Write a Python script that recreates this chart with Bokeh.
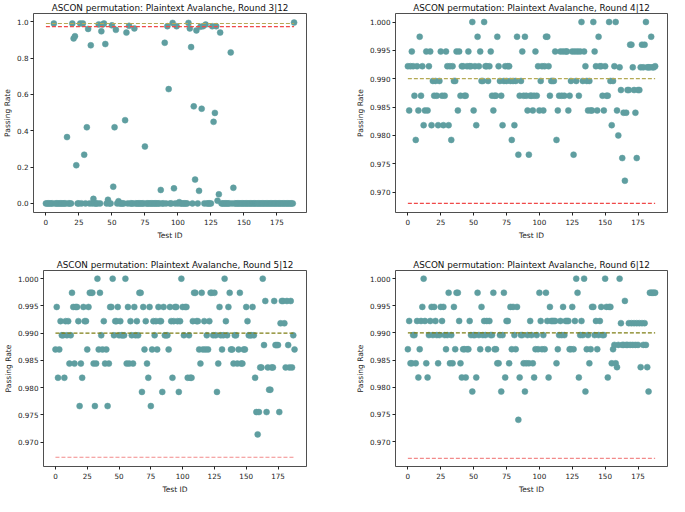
from bokeh.plotting import figure
from bokeh.layouts import column, row
from bokeh.models import Range1d, FixedTicker, PrintfTickFormatter
from bokeh.embed import file_html
from bokeh.resources import INLINE

# ---------------- data ----------------
round3 = [
    0, 0, 0, 0, 0, 0, .99, 0, 0, 0,
    0, 0, 0, 0, 0, 0, .365, 0, 0, 0,
    .99, .908, .92, .21, 0, 0, .99, 0, .99, .268,
    0, .419, .96, 0, .87, 0, .025, 0, 0, 0,
    .985, 0, .947, .985, .99, .877, 0, .02, 0, 0,
    .98, .092, .419, .955, 0, .012, 0, 0, 0, 0,
    .458, .94, 0, .977, 0, 0, 0, .963, 0, 0,
    0, 0, 0, 0, 0, .313, 0, 0, 0, 0,
    0, 0, 0, 0, 0, 0, 0, .074, 0, 0,
    .884, 0, .975, .629, 0, 0, .993, .083, 0, .975,
    0, .007, 0, 0, 0, 0, 0, 0, .993, .963,
    .86, 0, .534, .131, .952, 0, .069, .972, .521, .975,
    0, .984, 0, 0, 0, 0, .975, .449, .498, .975,
    .015, .05, .94, 0, 0, 0, 0, 0, 0, 0,
    .831, 0, .086, 0, 0, 0, 0, 0, 0, 0,
    0, 0, 0, 0, 0, 0, 0, 0, 0, 0,
    0, 0, 0, 0, 0, 0, 0, 0, 0, 0,
    0, 0, 0, 0, 0, 0, 0, 0, 0, 0,
    0, 0, 0, 0, 0, 0, 0, 0, .995,
]

round4 = [
    .9922, .9844, .9922, .9948, .9922, .9870, .9792, .9922, .9844, .9974,
    .9870, .9922, .9818, .9844, .9948, .9844, .9922, .9948, .9818, .9896,
    .9870, .9896, .9870, .9818, .9896, .9948, .9870, .9818, .9870, .9948,
    .9922, .9818, .9922, .9792, .9922, .9896, .9896, .9948, .9844, .9948,
    .9870, .9922, .9922, .9870, .9870, .9922, .9948, .9922, .9922, 1.000,
    .9844, .9922, .9818, .9974, .9922, .9948, .9896, .9896, 1.000, .9922,
    .9922, .9896, .9922, .9948, .9870, .9844, .9870, .9870, .9974, .9922,
    .9896, .9870, .9818, .9896, .9922, .9896, .9922, .9922, .9896, .9792,
    .9896, .9818, .9896, .9974, .9766, .9870, .9896, .9948, .9870, .9974,
    .9870, .9844, .9766, .9870, .9870, .9844, .9870, .9948, .9870, .9922,
    .9844, .9896, .9922, .9844, .9922, .9974, .9974, .9922, .9870, .9896,
    .9896, .9896, .9948, .9792, .9844, .9870, .9948, .9870, .9948, .9870,
    .9948, .9948, .9844, .9870, .9896, .9948, .9766, .9948, .9896, .9948,
    .9870, .9948, 1.000, .9896, .9948, .9922, .9896, .9844, .9896, .9844,
    .9844, 1.000, .9948, .9922, .9844, .9974, .9922, .9922, .9870, .9844,
    .9922, .9870, .9870, 1.000, .9896, .9818, .9896, .9922, 1.000, .9844,
    .980, .992, .988, .976, .984, .972, .984, .988, .988, .996,
    .996, .992, .988, .984, .976, .988, .988, .992, .996, .992,
    .996, 1.000, .992, .992, .992, .9974, .992, .992, .9922,
]

round5 = [
    .9870, .9948, .9818, .9870, .9922, .9896, .9896, .9818, .9922, .9896,
    .9922, .9844, .9896, .9974, .9948, .9844, .9948, .9948, .9922, .9766,
    .9844, .9818, .9948, .9922, .9922, .9870, .9948, .9974, .9974, .9974,
    .9844, .9766, .9844, 1.000, .9870, .9974, .9896, .9870, .9922, .9844,
    .9870, .9766, .9844, .9948, .9948, 1.000, .9896, .9922, .9922, .9948,
    .9896, .9922, .9896, .9896, .9896, 1.000, .9844, .9948, .9844, .9922,
    .9896, .9844, .9948, .9896, .9922, .9896, .9974, .9974, .9792, .9948,
    .9870, .9922, .9844, .9818, .9948, .9766, .9870, .9922, .9896, .9922,
    .9870, .9948, .9922, .9922, .9792, .9948, .9896, .9896, .9896, .9870,
    .9948, .9922, .9818, .9922, .9948, .9948, .9922, .9792, .9922, 1.000,
    .9948, .9896, .9948, .9948, .9818, .9896, .9818, .9818, .9922, .9974,
    .9974, .9922, .9922, .9870, .9844, .9974, .9870, .9922, .9870, .9896,
    .9870, .9922, .9974, .9974, .9896, .9974, .9896, .9792, .9844, .9948,
    .9896, .9870, .9896, 1.000, .9922, .9896, .9948, .9974, .9870, .9870,
    .9844, .9896, .9896, .9844, .9870, .9974, .9844, .9844, .9870, .9870,
    .9948, .9922, .9896, .9896, .9896, .9948, .9896, .9818, .9755, .9714,
    .9755, .9837, .9837, 1.000, .9878, .9959, .9755, .9837, .9796, .9796,
    .9837, .9837, .9959, .9878, .9878, .9878, .9755, .9918, .9959, .9959,
    .9918, .9837, .9959, .9878, .9837, .9959, .9837, .9896, .9870,
]

round6 = [
    .9870, .9922, .9844, .9844, .9896, .9896, .9844, .9922, .9818, .9870,
    .9922, .9948, 1.000, .9922, .9844, .9818, .9896, .9922, .9948, .9896,
    .9948, .9922, .9896, .9844, .9896, .9948, .9922, .9948, .9896, .9870,
    .9896, .9974, .9844, .9896, .9844, .9948, .9870, .9974, .9974, .9922,
    .9844, .9818, .9870, .9870, .9818, .9870, .9870, .9922, .9896, .9792,
    .9896, .9896, .9818, .9974, .9896, .9870, .9948, .9896, .9922, .9896,
    .9922, .9870, .9922, .9896, .9896, .9974, .9870, .9870, .9844, .9844,
    .9896, .9792, .9896, .9974, .9818, .9922, .9922, .9844, .9948, .9870,
    .9948, .9896, .9870, .9948, .9740, .9818, .9896, .9896, .9844, .9792,
    .9844, .9896, .9844, .9922, .9896, .9844, .9818, .9870, .9896, .9870,
    .9974, .9922, .9870, .9896, .9870, .9974, .9922, .9818, .9948, .9922,
    .9922, .9922, .9922, .9844, .9870, .9896, .9922, .9896, .9948, .9896,
    .9922, .9922, .9922, .9870, .9870, .9948, .9870, .9922, 1.000, .9974,
    .9818, .9896, .9922, .9896, 1.000, .9792, .9870, .9896, .9844, .9870,
    .9948, .9948, .9896, .9922, .9870, .9896, .9922, .9948, .9896, .9896,
    1.000, .9948, .9818, .9948, .9948, .9844, .9870, .9878, .9844, .9837,
    .9878, 1.000, .9918, .9878, .9878, .9959, .9878, .9878, .9918, .9878,
    .9918, .9878, .9918, .9878, .9918, .9878, .9918, .9837, .9918, .9878,
    .9918, .9878, .9837, .9792, .9974, .9974, .9974, .9974, .9974,
]

test_ids = list(range(len(round4)))

titles = [
    "ASCON permutation: Plaintext Avalanche, Round 3|12",
    "ASCON permutation: Plaintext Avalanche, Round 4|12",
    "ASCON permutation: Plaintext Avalanche, Round 5|12",
    "ASCON permutation: Plaintext Avalanche, Round 6|12",
]
upper_lines = [0.99, 0.99, 0.99, 0.99]
lower_lines = [0.9725, 0.968, 0.9672, 0.9669]

x_ticks = [0, 25, 50, 75, 100, 125, 150, 175]
y_ticks_r3 = [0.0, 0.2, 0.4, 0.6, 0.8, 1.0]
y_ticks_fine = [0.970, 0.975, 0.980, 0.985, 0.990, 0.995, 1.000]

POINT = "#5f9ea0"
FONT = "DejaVu Sans"


def make(title, rates, upper, lower, yrange, yticks, yfmt, w, h,
         bl, br, bt, bb, ucol, lcol):
    p = figure(width=w, height=h, output_backend="svg", toolbar_location=None,
               x_range=Range1d(-9.4, 197.4), y_range=Range1d(*yrange),
               min_border_left=bl, min_border_right=br,
               min_border_top=bt, min_border_bottom=bb,
               background_fill_color="white", border_fill_color="white")
    p.title.text = title
    p.title.align = "center"
    p.title.text_font = FONT
    p.title.text_font_size = "8.8px"
    p.title.text_font_style = "normal"
    p.title.text_color = "#111111"
    p.title.standoff = 1
    p.grid.visible = False
    p.outline_line_color = "#222222"
    p.outline_line_width = 0.8

    p.scatter(test_ids, rates, size=6, fill_color=POINT, line_color=POINT,
              line_width=0.5)
    p.segment(x0=[test_ids[0]], x1=[test_ids[-1]], y0=[upper], y1=[upper],
              line_color=ucol, line_width=1.2, line_dash="4 2")
    p.segment(x0=[test_ids[0]], x1=[test_ids[-1]], y0=[lower], y1=[lower],
              line_color=lcol, line_width=1.2, line_dash="4 2")

    p.xaxis.ticker = FixedTicker(ticks=x_ticks)
    p.yaxis.ticker = FixedTicker(ticks=yticks)
    p.yaxis.formatter = PrintfTickFormatter(format=yfmt)
    p.xaxis.axis_label = "Test ID"
    p.yaxis.axis_label = "Passing Rate"
    for ax in (p.xaxis, p.yaxis):
        ax.axis_line_color = None
        ax.major_tick_out = 3
        ax.major_tick_in = 0
        ax.minor_tick_line_color = None
        ax.major_tick_line_color = "#222222"
        ax.major_label_text_font = FONT
        ax.major_label_text_font_size = "7.2px"
        ax.major_label_text_color = "#222222"
        ax.axis_label_text_font = FONT
        ax.axis_label_text_font_size = "7.5px"
        ax.axis_label_text_font_style = "normal"
        ax.axis_label_text_color = "#222222"
    p.yaxis.major_label_standoff = 2
    p.yaxis.axis_label_standoff = 2
    p.xaxis.major_label_standoff = 3
    p.xaxis.axis_label_standoff = 3
    return p


p1 = make(titles[0], round3, upper_lines[0], lower_lines[0], (-0.05, 1.045),
          y_ticks_r3, "%.1f", 350, 246, 31, 44, 12, 34, "#b5aa55", "#f04a4a")
p2 = make(titles[1], round4, upper_lines[1], lower_lines[1], (0.9664, 1.0015),
          y_ticks_fine, "%.3f", 319, 246, 45, 2, 12, 34, "#b5aa55", "#f04a4a")
p3 = make(titles[2], round5, upper_lines[2], lower_lines[2], (0.9655, 1.0015),
          y_ticks_fine, "%.3f", 350, 250, 35, 44, 24, 26, "#7f7f15", "#f28a8a")
p4 = make(titles[3], round6, upper_lines[3], lower_lines[3], (0.9654, 1.0015),
          y_ticks_fine, "%.3f", 319, 250, 45, 2, 24, 26, "#7f7f15", "#f28a8a")

layout = column(row(p1, p2), row(p3, p4))
open("out.html", "w").write(file_html(layout, INLINE))
